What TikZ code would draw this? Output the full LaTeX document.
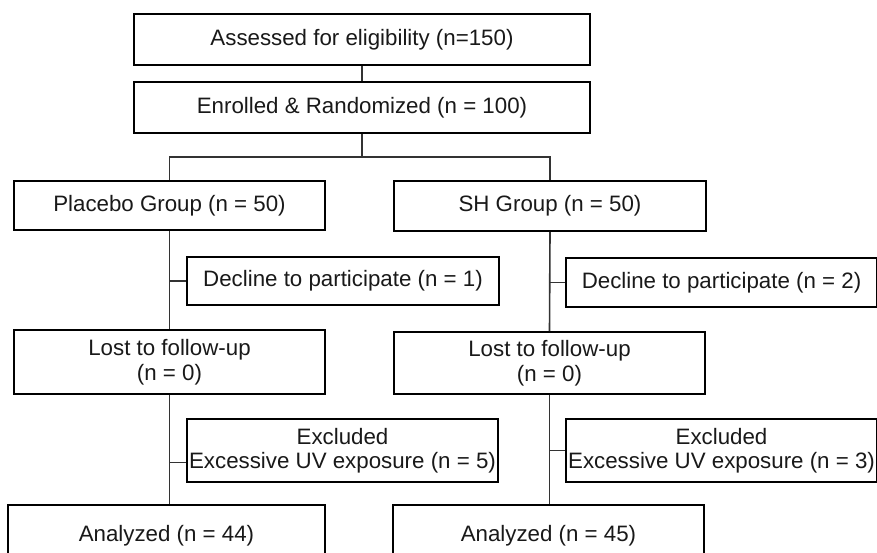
\documentclass[tikz,border=0pt]{standalone}
\usepackage{fontspec}
\setmainfont{Liberation Sans}
\tikzset{
  box/.style={draw=black, line width=2pt, rectangle, inner sep=0pt, align=center, anchor=north west,
    font=\fontsize{22.3}{24.5}\selectfont, text=black!90},
  conn/.style={draw=black!80, line width=1.6pt}
}
\begin{document}
\begin{tikzpicture}[x=1pt,y=-1pt]
\useasboundingbox (0,0) rectangle (877,553);
\fill[white] (0,0) rectangle (877,553);
\clip (0,0) rectangle (877,553);
\node[box, minimum width=456pt, minimum height=51pt] (assess) at (133,13) {Assessed for eligibility (n=150)};
\node[box, minimum width=456pt, minimum height=51pt] (enroll) at (133,81) {Enrolled \& Randomized (n = 100)};
\node[box, minimum width=311pt, minimum height=49pt] (placebo) at (13,180) {Placebo Group (n = 50)};
\node[box, minimum width=312pt, minimum height=50pt] (sh) at (393,180) {SH Group (n = 50)};
\node[box, minimum width=312pt, minimum height=48pt] (decl1) at (186,256) {Decline to participate (n = 1)};
\node[box, minimum width=311pt, minimum height=49pt] (decl2) at (565,257) {Decline to participate (n = 2)};
\node[box, minimum width=311pt, minimum height=64pt] (lostL) at (13,329) {Lost to follow-up\\(n = 0)};
\node[box, minimum width=311pt, minimum height=62pt] (lostR) at (393,331) {Lost to follow-up\\(n = 0)};
\node[box, minimum width=311pt, minimum height=63pt] (exclL) at (186,418) {Excluded\\Excessive UV exposure (n = 5)};
\node[box, minimum width=311pt, minimum height=63pt] (exclR) at (565,418) {Excluded\\Excessive UV exposure (n = 3)};
\node[box, minimum width=317pt, minimum height=62pt] (anaL) at (7,504) {Analyzed (n = 44)};
\node[box, minimum width=311pt, minimum height=62pt] (anaR) at (392,504) {Analyzed (n = 45)};
% connectors
\draw[conn] (assess.south) -- (enroll.north);
\coordinate (br) at ([yshift=-23pt]enroll.south);
\draw[conn] (enroll.south) -- (br);
\draw[conn] (placebo.north) |- (br) -| (sh.north);
\draw[conn] (placebo.south) -- (lostL.north);
\draw[conn] (placebo.south |- decl1.west) -- (decl1.west);
\draw[conn] (sh.south) -- (lostR.north);
\draw[conn] (sh.south |- decl2.west) -- (decl2.west);
\draw[conn] (lostL.south) -- (anaL.north -| lostL.south);
\coordinate (tL) at ([yshift=-12pt]exclL.west);
\draw[conn] (lostL.south |- tL) -- (tL);
\draw[conn] (lostR.south) -- (anaR.north -| lostR.south);
\draw[conn] (lostR.south |- exclR.west) -- (exclR.west);
\end{tikzpicture}
\end{document}
